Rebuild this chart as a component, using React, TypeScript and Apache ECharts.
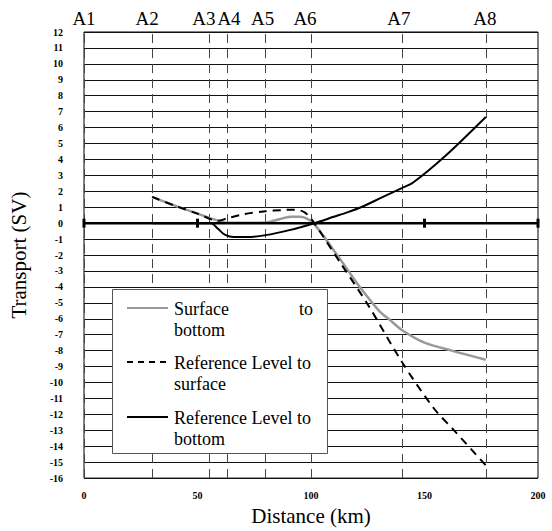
import React, { useEffect, useRef } from "react";
import * as echarts from "echarts";

// Stations along the section
const stationKm = [0, 30, 55, 63, 80, 100, 140, 177];
const stationNames = ["A1", "A2", "A3", "A4", "A5", "A6", "A7", "A8"];

// Surface to bottom (grey)
const surfKm = [30, 40, 50, 59, 62, 70, 80, 86, 91, 95, 98, 101, 106, 110, 116, 122, 130, 135, 140, 150, 162, 177];
const surfVal = [1.65, 1.1, 0.6, 0.15, 0.05, 0.03, 0.05, 0.25, 0.4, 0.4, 0.3, 0.0, -0.9, -1.7, -2.9, -4.1, -5.5, -6.1, -6.7, -7.5, -8.0, -8.57];

// Reference level to surface (dashed)
const refSurfKm = [30, 40, 50, 59, 63, 70, 80, 87, 93, 97, 99, 101.5, 113, 125, 140, 154, 163, 177];
const refSurfVal = [1.65, 1.1, 0.6, 0.15, 0.3, 0.55, 0.75, 0.82, 0.85, 0.7, 0.45, 0.0, -2.5, -5.1, -8.7, -11.6, -13.0, -15.2];

// Reference level to bottom (black)
const refBotKm = [30, 50, 56, 59, 62, 66, 72, 80, 90, 101.5, 110, 116, 122, 131, 140, 145, 159, 177];
const refBotVal = [0, 0, 0, -0.35, -0.72, -0.87, -0.87, -0.75, -0.45, 0.0, 0.4, 0.68, 1.0, 1.6, 2.2, 2.55, 4.2, 6.67];

// Zero reference line
const zeroKm = [0, 50, 150, 200];
const zeroVal = [0, 0, 0, 0];

// Legend labels
const legendNames = ["Surface to bottom", "Reference Level to surface", "Reference Level to bottom"];

// Style-only nudges for the station labels
const labelNudge = [0, -5, -5, 2, -3, -6, -3, -1];

const FONT = "'Liberation Serif', 'Times New Roman', Times, serif";

const pairs = (xs: number[], ys: number[]) => xs.map((x, i) => [x, ys[i]]);

export default function App() {
  const ref = useRef<HTMLDivElement>(null);
  useEffect(() => {
    if (!ref.current) return;
    const chart = echarts.init(ref.current, undefined, { renderer: "svg" });
    const lx = 174;
    const option: any = {
      animation: false,
      backgroundColor: "#fff",
      textStyle: { fontFamily: FONT },
      grid: {
        left: 83,
        right: 14,
        top: 32,
        bottom: 50,
        show: true,
        borderColor: "#000",
        borderWidth: 1,
        backgroundColor: "transparent",
      },
      xAxis: {
        type: "value",
        min: 0,
        max: 200,
        interval: 50,
        axisLine: { show: false },
        axisTick: { show: false },
        splitLine: { show: false },
        axisLabel: { fontFamily: FONT, fontWeight: "bold", fontSize: 10, color: "#000", margin: 12 },
        name: "Distance (km)",
        nameLocation: "middle",
        nameGap: 26,
        nameTextStyle: { fontFamily: FONT, fontSize: 21, color: "#000" },
      },
      yAxis: {
        type: "value",
        min: -16,
        max: 12,
        interval: 1,
        axisLine: { show: false },
        axisTick: { show: false },
        splitLine: { show: true, lineStyle: { color: "#111", width: 1 } },
        axisLabel: { fontFamily: FONT, fontWeight: "bold", fontSize: 10, color: "#000", margin: 21 },
        name: "Transport (SV)",
        nameLocation: "middle",
        nameGap: 55,
        nameTextStyle: { fontFamily: FONT, fontSize: 21, color: "#000" },
      },
      series: [
        {
          name: legendNames[0],
          type: "line",
          data: pairs(surfKm, surfVal),
          smooth: 0.3,
          showSymbol: false,
          lineStyle: { color: "#999", width: 2.5 },
          z: 3,
        },
        {
          name: legendNames[1],
          type: "line",
          data: pairs(refSurfKm, refSurfVal),
          smooth: 0.3,
          showSymbol: false,
          lineStyle: { color: "#000", width: 2, type: [8, 6] },
          z: 4,
        },
        {
          name: legendNames[2],
          type: "line",
          data: pairs(refBotKm, refBotVal),
          smooth: 0.3,
          showSymbol: false,
          lineStyle: { color: "#000", width: 2 },
          z: 5,
        },
        {
          name: "zero",
          type: "line",
          data: pairs(zeroKm, zeroVal),
          symbol: "rect",
          symbolSize: [3, 9],
          itemStyle: { color: "#000" },
          lineStyle: { color: "#000", width: 2.5 },
          z: 6,
          markLine: {
            silent: true,
            symbol: ["none", "none"],
            z: 1,
            lineStyle: { color: "#444", width: 1, type: [9, 6] },
            label: {
              show: true,
              position: "end",
              formatter: "{b}",
              fontFamily: FONT,
              fontSize: 19,
              color: "#000",
              distance: 4,
            },
            data: stationKm.map((km, i) => ({
              xAxis: km,
              name: stationNames[i],
              label: { offset: [labelNudge[i], 0] },
            })),
          },
        },
      ],
      graphic: [
        {
          type: "rect",
          z: 100,
          shape: { x: 112.5, y: 289.5, width: 215, height: 164 },
          style: { fill: "#fff", stroke: "#555", lineWidth: 1 },
        },
        {
          type: "line",
          z: 101,
          shape: { x1: 127, y1: 308, x2: 168, y2: 308 },
          style: { stroke: "#999", lineWidth: 2 },
        },
        {
          type: "line",
          z: 101,
          shape: { x1: 127, y1: 362, x2: 168, y2: 362 },
          style: { stroke: "#000", lineWidth: 2, lineDash: [6, 5] },
        },
        {
          type: "line",
          z: 101,
          shape: { x1: 127, y1: 417, x2: 168, y2: 417 },
          style: { stroke: "#000", lineWidth: 2 },
        },
        ...[
          { t: "Surface", x: lx, y: 309, a: "left" },
          { t: "to", x: 313, y: 309, a: "right" },
          { t: "bottom", x: lx, y: 330, a: "left" },
          { t: "Reference Level to", x: lx, y: 363, a: "left" },
          { t: "surface", x: lx, y: 384, a: "left" },
          { t: "Reference Level to", x: lx, y: 418, a: "left" },
          { t: "bottom", x: lx, y: 439, a: "left" },
        ].map((o) => ({
          type: "text",
          z: 102,
          x: o.x,
          y: o.y,
          style: {
            text: o.t,
            fontFamily: FONT,
            fontSize: 18,
            fill: "#000",
            align: o.a,
            verticalAlign: "middle",
          },
        })),
      ],
    };
    chart.setOption(option);
    return () => chart.dispose();
  }, []);
  return (
    <div
      ref={ref}
      style={{ position: "fixed", left: 0, top: 0, width: 552, height: 531, background: "#fff" }}
    />
  );
}
